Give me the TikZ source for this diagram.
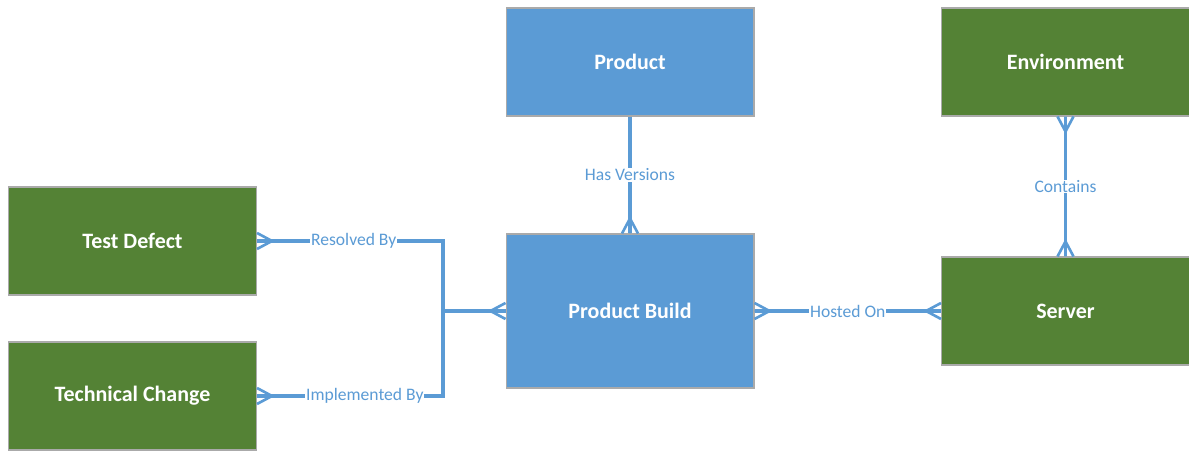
\documentclass[tikz,border=0pt]{standalone}
\usepackage{fontspec}
\setmainfont{Carlito}
\definecolor{entblue}{RGB}{91,155,213}
\definecolor{entgreen}{RGB}{84,130,53}
\definecolor{entedge}{RGB}{170,170,170}
\tikzset{
  entity/.style={draw=entedge,line width=0.6pt,minimum width=4.96cm,minimum height=2.16cm,inner sep=0pt,text=white,font=\fontsize{12.5}{14}\selectfont\bfseries},
  bluebox/.style={entity,fill=entblue},
  greenbox/.style={entity,fill=entgreen},
  link/.style={draw=entblue,line width=1.9pt},
  rel/.style={fill=white,text=entblue,inner sep=0.5pt,font=\fontsize{10}{11}\selectfont}
}
% crow's foot at an entity edge, #2 = direction pointing into the entity
\newcommand{\crowfoot}[2]{%
  \begin{scope}[shift={(#1)},rotate=#2]
    \draw[link,line width=1.5pt] (-15,0) -- (0,8) (-15,0) -- (0,0) (-15,0) -- (0,-8);
  \end{scope}}
\begin{document}
\begin{tikzpicture}[x=0.02cm,y=0.02cm]
\useasboundingbox (0,0) rectangle (1189,452);

\node[bluebox] (prod) at (630,390) {Product};
\node[greenbox] (env) at (1065.5,390) {Environment};
\node[greenbox] (defect) at (132.5,211) {Test Defect};
\node[greenbox] (change) at (132.5,56) {Technical Change};
\node[bluebox,minimum height=3.08cm] (build) at (630,141) {Product Build};
\node[greenbox] (server) at (1065.5,141) {Server};
\coordinate (join) at (443,141);

\draw[link] (defect.east) -| (join) node[rel,pos=0.26] {Resolved By};
\draw[link] (change.east) -| (join) node[rel,pos=0.29] {Implemented By};
\draw[link] (join) -- (build.west);
\draw[link] (build.east) -- (server.west) node[rel,midway] {Hosted On};
\draw[link] (prod.south) -- (build.north) node[rel,midway] {Has Versions};
\draw[link] (env.south) -- (server.north) node[rel,midway] {Contains};

\crowfoot{defect.east}{180}
\crowfoot{change.east}{180}
\crowfoot{build.west}{0}
\crowfoot{build.east}{180}
\crowfoot{server.west}{0}
\crowfoot{build.north}{270}
\crowfoot{server.north}{270}
\crowfoot{env.south}{90}
\end{tikzpicture}
\end{document}
